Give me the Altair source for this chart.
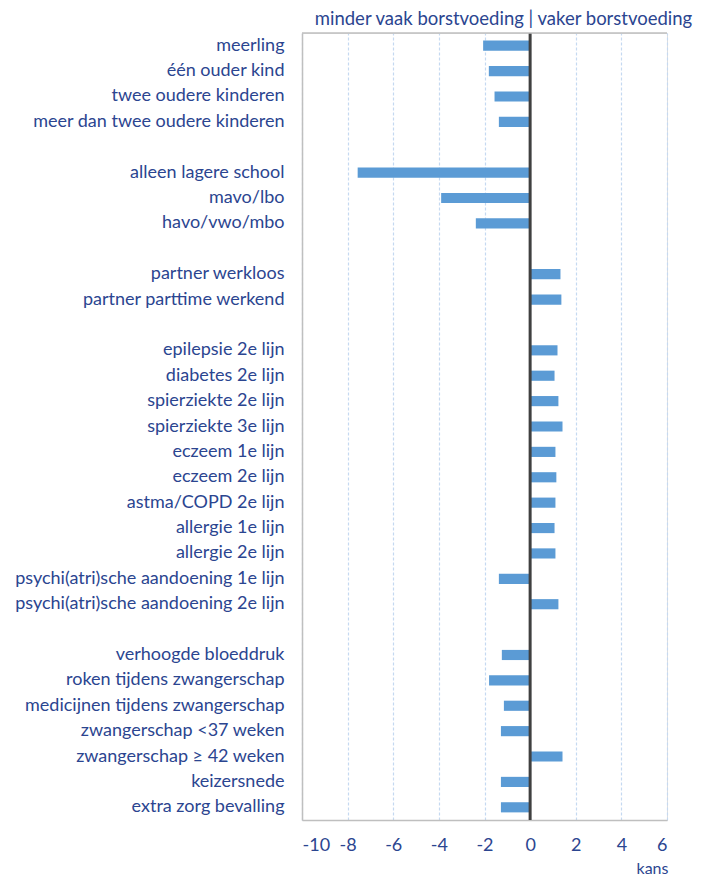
import altair as alt
import pandas as pd

categories = [
    "meerling", "één ouder kind", "twee oudere kinderen", "meer dan twee oudere kinderen", " ",
    "alleen lagere school", "mavo/lbo", "havo/vwo/mbo", "  ",
    "partner werkloos", "partner parttime werkend", "   ",
    "epilepsie 2e lijn", "diabetes 2e lijn", "spierziekte 2e lijn", "spierziekte 3e lijn",
    "eczeem 1e lijn", "eczeem 2e lijn", "astma/COPD 2e lijn", "allergie 1e lijn", "allergie 2e lijn",
    "psychi(atri)sche aandoening 1e lijn", "psychi(atri)sche aandoening 2e lijn", "    ",
    "verhoogde bloeddruk", "roken tijdens zwangerschap", "medicijnen tijdens zwangerschap",
    "zwangerschap <37 weken", "zwangerschap \u2265 42 weken", "keizersnede", "extra zorg bevalling",
]
values = [
    -2.06, -1.81, -1.56, -1.37, None,
    -7.56, -3.90, -2.38, None,
    1.33, 1.37, None,
    1.20, 1.07, 1.24, 1.42,
    1.11, 1.15, 1.11, 1.07, 1.11,
    -1.37, 1.24, None,
    -1.24, -1.80, -1.15,
    -1.28, 1.42, -1.28, -1.28,
]
x_ticks = [-10, -8, -6, -4, -2, 0, 2, 4, 6]

df = pd.DataFrame({"cat": categories, "kans": values})

TXT = "#2B4590"
FONT = "Lato"

y_enc = alt.Y("cat:N", sort=categories, title=None,
              scale=alt.Scale(paddingInner=0.6, paddingOuter=0.3),
              axis=alt.Axis(ticks=False, labelPadding=18, labelFontSize=18, labelFont=FONT,
                            labelColor=TXT, domainColor="#BFBFBF", domainWidth=1.5, grid=False,
                            labelLimit=400))
x_scale = alt.Scale(domain=[-10, 6], nice=False, zero=False)

bars = alt.Chart(df).mark_bar(color="#5B9BD5").encode(
    x=alt.X("kans:Q", scale=x_scale, title="kans",
            axis=alt.Axis(values=x_ticks, labelExpr="datum.value + ''", ticks=False, labelPadding=16,
                          labelFontSize=18, labelFont=FONT, labelColor=TXT,
                          domainColor="#BFBFBF", domainWidth=1.5,
                          grid=True, gridColor="#C5D9F1", gridDash=[3, 2], gridWidth=1.2,
                          titleFont=FONT, titleFontSize=16, titleFontWeight="normal",
                          titleColor=TXT, titleAnchor="end", titleAlign="center",
                          titleBaseline="middle", titleX=350, titleY=48)),
    x2=alt.datum(0),
    y=y_enc,
)

zero = alt.Chart(pd.DataFrame({"z": [0]})).mark_rule(color="#404040", strokeWidth=3).encode(
    x=alt.X("z:Q", scale=x_scale)
)

top_line = alt.Chart(pd.DataFrame({"z": [0]})).mark_rule(color="#BFBFBF", strokeWidth=1.5).encode(
    x=alt.value(0), x2=alt.value(365), y=alt.value(0)
)

chart = alt.layer(bars, zero, top_line).properties(
    width=365, height=787,
    title=alt.TitleParams("minder vaak borstvoeding | vaker borstvoeding", font=FONT,
                          fontSize=18.5, fontWeight="normal", color=TXT, anchor="middle",
                          dx=19, offset=3),
    autosize=alt.AutoSizeParams(type="none"),
    padding={"left": 302, "top": 33, "right": 37, "bottom": 55},
).configure_view(stroke=None).configure(background="white")

chart.save("out.html", embed_options={"renderer": "svg", "actions": False})
